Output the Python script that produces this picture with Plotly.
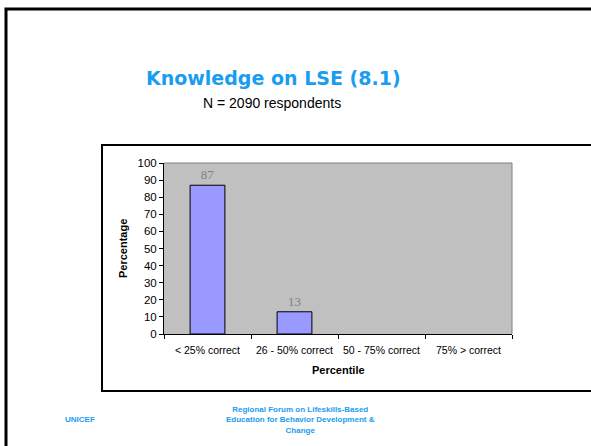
import plotly.graph_objects as go

categories = ["< 25% correct", "26 - 50% correct", "50 - 75% correct", "75% > correct"]
percentages = [87, 13, 0, 0]
y_ticks = [0, 10, 20, 30, 40, 50, 60, 70, 80, 90, 100]

W, H = 591, 446
L, R, T, B = 164, 512, 163, 334  # plot area in px


def px(x):
    return (x - L) / (R - L)


def py(y):
    return (B - y) / (B - T)


labels = [str(v) if v else "" for v in percentages]
outline = [1 if v else 0 for v in percentages]

fig = go.Figure(go.Bar(
    x=categories, y=percentages, text=labels, textposition="outside",
    textfont=dict(family="Liberation Serif, Times New Roman, serif", size=13, color="#808080"),
    marker=dict(color="#9999FF", line=dict(color="black", width=outline)),
    width=0.4, cliponaxis=False, hoverinfo="skip",
))

blue = "#1A9CF0"
SANS = "Liberation Sans, Arial, sans-serif"


def ann(text, x, y, size, color="black", family=SANS, **kw):
    return dict(text=text, x=px(x), y=py(y), xref="paper", yref="paper", xanchor="center",
                yanchor="middle", showarrow=False, font=dict(family=family, size=size, color=color), **kw)


annotations = [
    ann("<b>Knowledge on LSE (8.1)</b>", 273, 78, 19, blue, "DejaVu Sans, sans-serif"),
    ann("N = 2090 respondents", 272, 103, 14),
    ann("<b>Percentage</b>", 123, 249, 11, textangle=-90),
    ann("<b>Percentile</b>", 338, 370, 11),
    ann("<b>UNICEF</b>", 80, 419, 8, blue),
    ann("<b>Regional Forum on Lifeskills-Based<br>Education for Behavior Development &<br>Change</b>",
        300, 420, 8, blue, align="center"),
]

shapes = [
    # slide frame
    dict(type="rect", xref="paper", yref="paper", x0=px(6), y0=py(9), x1=px(620), y1=py(480),
         line=dict(color="black", width=3), layer="above"),
    # chart box
    dict(type="rect", xref="paper", yref="paper", x0=px(102), y0=py(145), x1=px(620), y1=py(391),
         line=dict(color="black", width=2), layer="above"),
    # plot area top/right gray border
    dict(type="line", xref="paper", yref="paper", x0=0, y0=1, x1=1, y1=1,
         line=dict(color="#808080", width=1)),
    dict(type="line", xref="paper", yref="paper", x0=1, y0=0, x1=1, y1=1,
         line=dict(color="#808080", width=1)),
]

fig.update_layout(
    width=W, height=H,
    margin=dict(l=L, r=W - R, t=T, b=H - B, pad=0),
    paper_bgcolor="white", plot_bgcolor="#C0C0C0",
    showlegend=False,
    annotations=annotations, shapes=shapes,
    font=dict(family=SANS, size=11, color="black"),
    xaxis=dict(type="category", showgrid=False, showline=True, linecolor="black", linewidth=1,
               ticks="outside", tickson="boundaries", ticklen=4, tickcolor="black",
               tickfont=dict(size=10.5), zeroline=False, ticklabelstandoff=6),
    yaxis=dict(range=[0, 100], tickvals=y_ticks, showgrid=False, showline=True, linecolor="black",
               linewidth=1, ticks="outside", ticklen=4, tickcolor="black", zeroline=False,
               tickfont=dict(size=11.5)),
)

fig.write_html("out.html", config={"displayModeBar": False},
               post_script="document.body.style.margin='0';document.body.style.overflow='hidden';")
